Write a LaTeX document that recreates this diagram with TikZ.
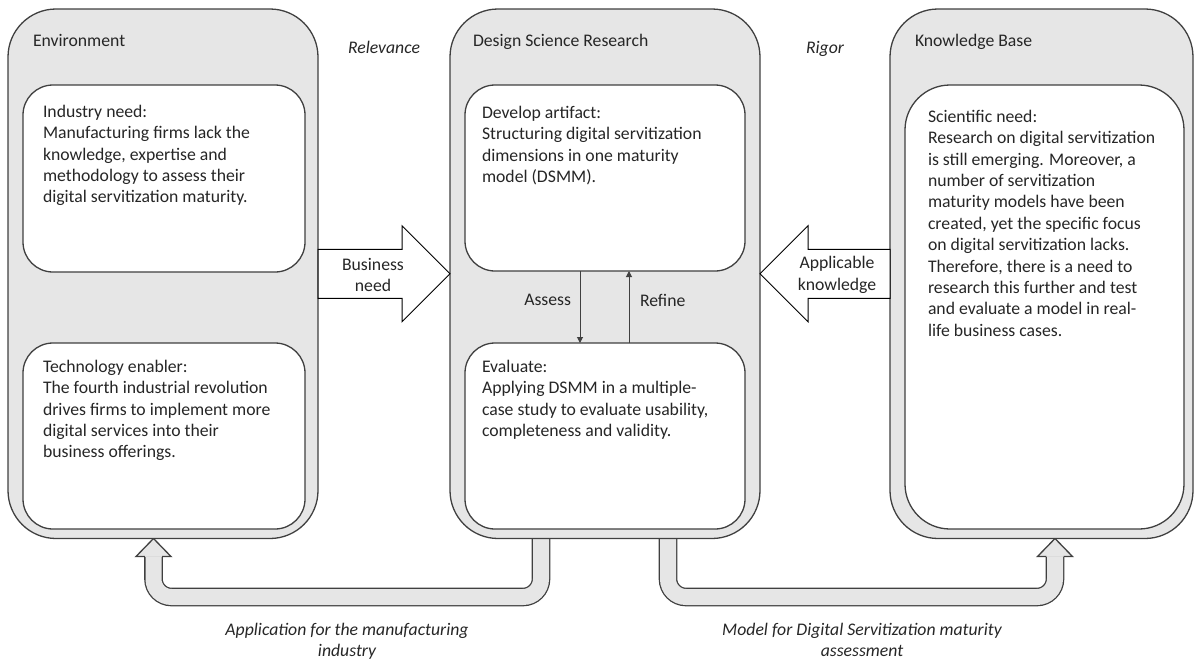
\documentclass[tikz,border=0pt]{standalone}
\usepackage{fontspec}
\setmainfont{Carlito}
\usetikzlibrary{calc,arrows.meta,backgrounds}
\definecolor{edge}{HTML}{404040}
\definecolor{panel}{HTML}{E6E6E6}
\definecolor{ink}{HTML}{262626}

\begin{document}
\begin{tikzpicture}[x=1pt,y=-1pt,
  every node/.style={inner sep=0pt, outer sep=0pt, text=ink, font=\fontsize{17.7}{21.4}\selectfont},
  outerbox/.style={draw=edge, fill=panel, line width=1.3pt, rounded corners=48pt},
  innerbox/.style={draw=edge, fill=white, line width=1.3pt, rounded corners=30pt},
  body/.style={anchor=north west, align=left},
  title/.style={anchor=base west},
  tag/.style={font=\fontsize{17.7}{21.4}\selectfont\itshape},
  blockarrow/.style={draw=black, fill=white, line width=1pt, line join=miter},
  flow/.style={draw=edge, line width=1pt, -{Triangle[length=6pt,width=6pt]}},
  bandout/.style={draw=edge, line width=18.6pt, rounded corners=18pt},
  bandin/.style={draw=panel, line width=16pt, rounded corners=18pt},
  headrim/.style={draw=edge, line width=1.3pt, line join=miter},
]
\useasboundingbox (0,0) rectangle (1195,659);

% three columns
\node[outerbox, minimum width=310pt, minimum height=529.5pt] (env) at (163,273.75) {};
\node[outerbox, minimum width=310pt, minimum height=529.5pt] (dsr) at (605,273.75) {};
\node[outerbox, minimum width=303pt, minimum height=529.5pt] (kb) at (1041.5,273.75) {};

\node[title] (envtitle) at (33,46.5) {Environment};
\node[title] (dsrtitle) at (473,46.5) {Design Science Research};
\node[title] (kbtitle) at (915,46.5) {Knowledge Base};

\node[tag, anchor=base] (relevance) at (384,53) {Relevance};
\node[tag, anchor=base] (rigor) at (825,53) {Rigor};

% inner panels
\node[innerbox, minimum width=282pt, minimum height=187pt] (ind) at (164,178.5) {};
\node[innerbox, minimum width=282pt, minimum height=186pt] (tech) at (164,436) {};
\node[innerbox, minimum width=280pt, minimum height=186pt] (dev) at (605,178) {};
\node[innerbox, minimum width=280pt, minimum height=186pt] (eval) at (605,436) {};
\node[innerbox, rounded corners=45pt, minimum width=279pt, minimum height=444pt] (sci) at (1044.5,307) {};

\node[body] (indtext) at (43,105) {Industry need:\\Manufacturing firms lack the\\knowledge, expertise and\\methodology to assess their\\digital servitization maturity.};
\node[body] (techtext) at (43,360) {Technology enabler:\\The fourth industrial revolution\\drives firms to implement more\\digital services into their\\business offerings.};
\node[body] (devtext) at (482,106) {Develop artifact:\\Structuring digital servitization\\dimensions in one maturity\\model (DSMM).};
\node[body] (evaltext) at (482,360) {Evaluate:\\Applying DSMM in a multiple-\\case study to evaluate usability,\\completeness and validity.};
\node[body] (scitext) at (928,110) {Scientific need:\\Research on digital servitization\\is still emerging. Moreover, a\\number of servitization\\maturity models have been\\created, yet the specific focus\\on digital servitization lacks.\\Therefore, there is a need to\\research this further and test\\and evaluate a model in real-\\life business cases.};

% assess / refine loop
\draw[flow] ($(dev.south)+(-25,0)$) -- ($(eval.north)+(-25,0)$);
\draw[flow] ($(eval.north)+(24,0)$) -- ($(dev.south)+(24,0)$);
\node[anchor=east] (assess) at (571,300) {Assess};
\node[anchor=west] (refine) at (640,300) {Refine};

% block arrows between the columns
\draw[blockarrow] ($(env.east)+(0,-24.5)$) -- ($(dsr.west)+(-48,-24.5)$) -- ($(dsr.west)+(-48,-48)$)
  -- (dsr.west) -- ($(dsr.west)+(-48,48)$) -- ($(dsr.west)+(-48,24.5)$) -- ($(env.east)+(0,24.5)$) -- cycle;
\node[align=center] (bneed) at (373,275) {Business\\need};

\draw[blockarrow] ($(kb.west)+(0,-24.5)$) -- ($(dsr.east)+(48,-24.5)$) -- ($(dsr.east)+(48,-48)$)
  -- (dsr.east) -- ($(dsr.east)+(48,48)$) -- ($(dsr.east)+(48,24.5)$) -- ($(kb.west)+(0,24.5)$) -- cycle;
\node[align=center] (aknow) at (837,275) {Applicable\\knowledge};

% feedback arrows below the columns
\coordinate (lfoot) at ($(dsr.south)+(-64,0)$);
\coordinate (ltip) at ($(env.south)+(-9.5,0)$);
\coordinate (rfoot) at ($(dsr.south)+(63,0)$);
\coordinate (rtip) at ($(kb.south)+(13.5,0)$);

\begin{scope}[on background layer]
  \draw[bandout] (lfoot) -- (lfoot |- 0,597) -- (ltip |- 0,597) -- ($(ltip)+(0,18)$);
  \draw[bandin]  (lfoot) -- (lfoot |- 0,597) -- (ltip |- 0,597) -- ($(ltip)+(0,18)$);
  \fill[panel] ($(ltip)+(-17.5,18)$) -- (ltip) -- ($(ltip)+(17.5,18)$) -- cycle;
  \draw[headrim] ($(ltip)+(-8.65,18)$) -- ($(ltip)+(-17.5,18)$) -- (ltip) -- ($(ltip)+(17.5,18)$) -- ($(ltip)+(8.65,18)$);

  \draw[bandout] (rfoot) -- (rfoot |- 0,597) -- (rtip |- 0,597) -- ($(rtip)+(0,18)$);
  \draw[bandin]  (rfoot) -- (rfoot |- 0,597) -- (rtip |- 0,597) -- ($(rtip)+(0,18)$);
  \fill[panel] ($(rtip)+(-17.5,18)$) -- (rtip) -- ($(rtip)+(17.5,18)$) -- cycle;
  \draw[headrim] ($(rtip)+(-8.65,18)$) -- ($(rtip)+(-17.5,18)$) -- (rtip) -- ($(rtip)+(17.5,18)$) -- ($(rtip)+(8.65,18)$);
\end{scope}

\node[tag, align=center, anchor=north] (applabel) at (347,623) {Application for the manufacturing\\industry};
\node[tag, align=center, anchor=north] (modlabel) at (862,623) {Model for Digital Servitization maturity\\assessment};
\end{tikzpicture}
\end{document}
